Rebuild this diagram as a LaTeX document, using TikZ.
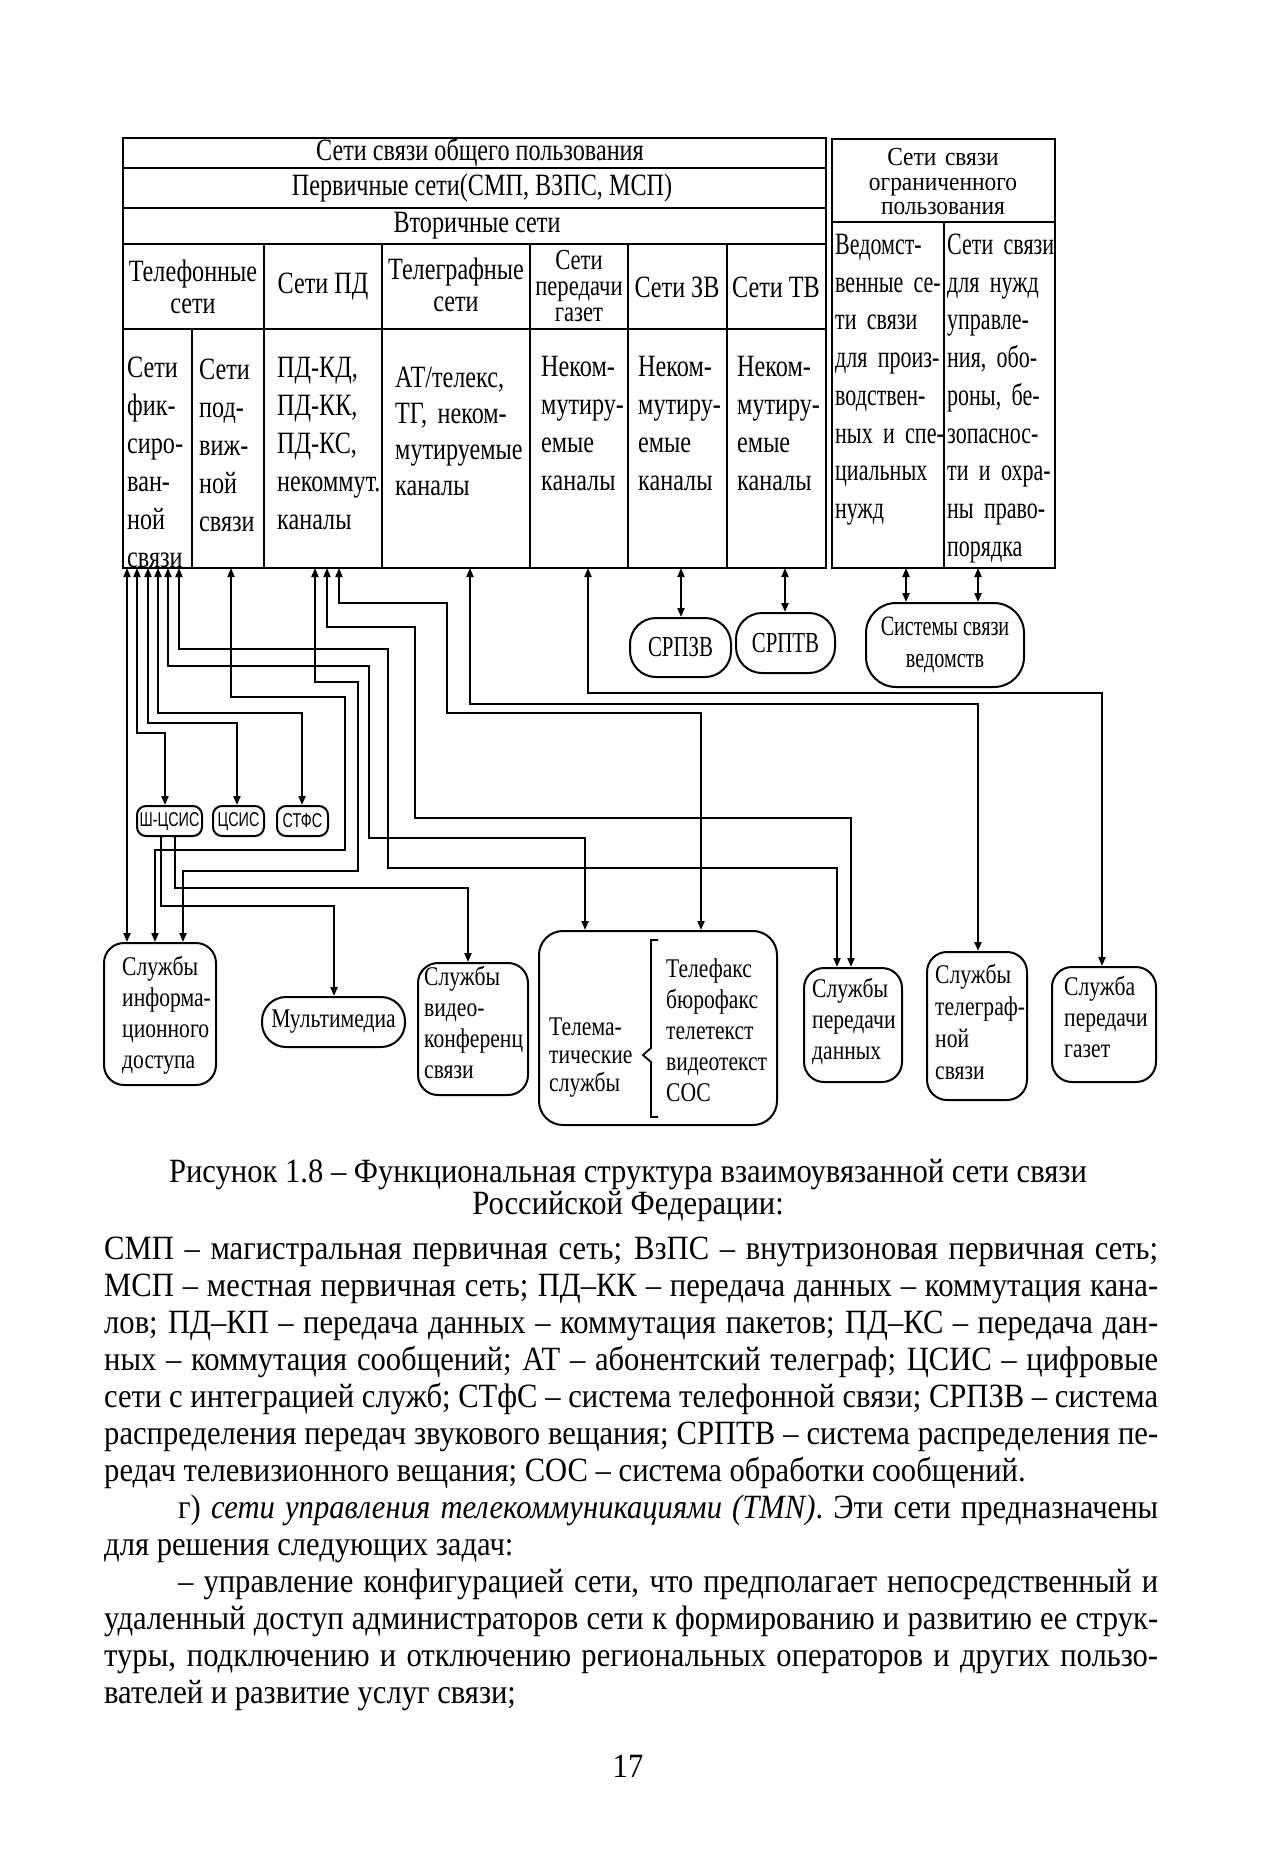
\documentclass[tikz,border=0pt]{standalone}
\usepackage{fontspec}
\setmainfont{Liberation Serif}[FakeStretch=0.9]
\newfontfamily\dgfam[FakeStretch=0.78]{Liberation Serif}
\newfontfamily\dgrt[FakeStretch=0.71]{Liberation Serif}
\newfontfamily\dghd[FakeStretch=0.9]{Liberation Serif}
\newfontfamily\dgbox[FakeStretch=0.8]{Liberation Serif}
\newfontfamily\dgnar[FakeStretch=0.72]{Liberation Serif}
\newfontfamily\dgsans[FakeStretch=0.72]{Liberation Sans}
\usetikzlibrary{arrows.meta}
\begin{document}
\begin{tikzpicture}[x=1pt,y=-1pt,
  tline/.style={line width=2.4pt},
  conn/.style={line width=2pt},
  biarr/.style={conn,{Triangle[length=9pt,width=7pt]}-{Triangle[length=9pt,width=7pt]}},
  arr/.style={conn,-{Triangle[length=9pt,width=7pt]}},
  hdr/.style={inner sep=0pt, align=center, font=\dgfam\fontsize{31}{32}\selectfont},
  cell/.style={anchor=north west, inner sep=0pt, text width=#1, align=left, font=\dgfam\fontsize{31}{38}\selectfont},
  sbox/.style={draw, line width=2pt, rounded corners=9pt, minimum height=30pt, inner sep=0pt, font=\dgsans\fontsize{20}{20}\selectfont},
  obox/.style={draw, line width=2pt, rounded corners=26pt, inner sep=0pt, align=center, font=\dgnar\fontsize{29}{32}\selectfont},
  sv/.style={draw, line width=2pt, rounded corners=20pt, inner sep=0pt},
  tx/.style={anchor=north west, inner sep=0pt, align=left, text width=#1, font=\dgbox\fontsize{27}{31}\selectfont},
  body/.style={anchor=base west, inner sep=0pt, font=\fontsize{34}{37}\selectfont},
  capt/.style={anchor=base, inner sep=0pt, font=\fontsize{34}{37}\selectfont}
]
\path[use as bounding box, fill=white] (0,0) rectangle (1261,1850);

% ---------- left table ----------
\draw[tline] (123,138) rectangle (826,568);
\foreach \yy in {168,208,244,329} \draw[tline] (123,\yy) -- (826,\yy);
\foreach \xx in {264,382,530,628,727} \draw[tline] (\xx,244) -- (\xx,568);
\draw[tline] (192,329) -- (192,568);

\node[hdr] (h1) at (480,153) {Сети связи общего пользования};
\node[hdr] (h2) at (482,188) {Первичные сети(СМП, ВЗПС, МСП)};
\node[hdr] (h3) at (477,226) {Вторичные сети};

\node[hdr, text width=135] (c1) at (193,287) {Телефонные\\сети};
\node[hdr] (c2) at (323,287) {Сети ПД};
\node[hdr, text width=140] (c3) at (456,285) {Телеграфные\\сети};
\node[hdr, text width=96, font=\dgfam\fontsize{29}{26}\selectfont] (c4) at (579,286) {Сети\\передачи\\газет};
\node[hdr] (c5) at (677,287) {Сети ЗВ};
\node[hdr] (c6) at (776,287) {Сети ТВ};

\node[cell=200] (d1) at (127,351) {\strut Сети\\фик-\\сиро-\\ван-\\ной\\связи};
\node[cell=200] (d2) at (199,353) {\strut Сети\\под-\\виж-\\ной\\связи};
\node[cell=200] (d3) at (277,351) {\strut ПД-КД,\\ПД-КК,\\ПД-КС,\\некоммут.\\каналы};
\node[cell=200, font=\dgfam\fontsize{31}{36}\selectfont] (d4) at (395,362) {\strut АТ/телекс,\\ТГ, неком-\\мутируемые\\каналы};
\node[cell=200] (d5) at (541,350) {\strut Неком-\\мутиру-\\емые\\каналы};
\node[cell=200] (d6) at (638,350) {\strut Неком-\\мутиру-\\емые\\каналы};
\node[cell=200] (d7) at (737,350) {\strut Неком-\\мутиру-\\емые\\каналы};

% ---------- right table ----------
\draw[tline] (832,139) rectangle (1055,568);
\draw[tline] (832,222) -- (1055,222);
\draw[tline] (944,222) -- (944,568);
\node[hdr, text width=215, font=\dghd\fontsize{26}{24.5}\selectfont] (r0) at (943,182) {Сети связи\\ограниченного\\пользования};
\node[cell=200, font=\dgrt\fontsize{31}{37.7}\selectfont] (r1) at (835,228) {\strut Ведомст-\\венные се-\\ти связи\\для произ-\\водствен-\\ных и спе-\\циальных\\нужд};
\node[cell=200, font=\dgrt\fontsize{31}{37.7}\selectfont] (r2) at (947,228) {\strut Сети связи\\для нужд\\управле-\\ния, обо-\\роны, бе-\\зопаснос-\\ти и охра-\\ны право-\\порядка};

% ---------- middle nodes ----------
\node[sbox, minimum width=65pt] (shc) at (169.5,821) {Ш-ЦСИС};
\node[sbox, minimum width=51pt] (csis) at (238.5,821) {ЦСИС};
\node[sbox, minimum width=51pt] (stfs) at (302.5,821) {СТФС};

\node[obox, minimum width=101pt, minimum height=59pt] (srpzv) at (680.5,647.5) {СРПЗВ};
\node[obox, minimum width=99pt, minimum height=60pt] (srptv) at (785.5,643) {СРПТВ};
\node[obox, minimum width=158pt, minimum height=84pt, rounded corners=30pt, font=\dgnar\fontsize{28}{32}\selectfont] (sved) at (945,645) {Системы связи\\ведомств};

% ---------- bottom nodes ----------
\node[sv, minimum width=112pt, minimum height=142pt] (sinf) at (160,1014) {};
\node[tx=200] (sinft) at (122,954) {\strut Службы\\информа-\\ционного\\доступа};
\node[obox, minimum width=143pt, minimum height=50pt, rounded corners=24pt, font=\dgbox\fontsize{27}{30}\selectfont] (mm) at (333.5,1022) {Мультимедиа};
\node[sv, minimum width=110pt, minimum height=132pt] (vk) at (473,1029) {};
\node[tx=200] (vkt) at (424,964) {\strut Службы\\видео-\\конференц\\связи};
\node[sv, rounded corners=24pt, minimum width=238pt, minimum height=194pt] (telem) at (658,1028) {};
\node[tx=200, font=\dgbox\fontsize{27}{28}\selectfont] (tl1) at (549,1016) {\strut Телема-\\тические\\службы};
\node[tx=200] (tl2) at (666,956) {\strut Телефакс\\бюрофакс\\телетекст\\видеотекст\\СОС};
\draw[line width=1.8pt] (658,940) -- (651,940) -- (651,1048) -- (643,1055) -- (651,1062) -- (651,1117) -- (658,1117);
\node[sv, minimum width=98pt, minimum height=114pt] (spd) at (853,1025) {};
\node[tx=200] (spdt) at (812,976) {\strut Службы\\передачи\\данных};
\node[sv, minimum width=100pt, minimum height=148pt] (stg) at (977,1026) {};
\node[tx=200, font=\dgbox\fontsize{27}{32}\selectfont] (stgt) at (935,961) {\strut Службы\\телеграф-\\ной\\связи};
\node[sv, minimum width=104pt, minimum height=115pt] (sgaz) at (1104,1024.5) {};
\node[tx=200] (sgazt) at (1064,974) {\strut Служба\\передачи\\газет};

% ---------- connector coordinates ----------
\foreach \n/\xx in {1/127,2/137,3/148,4/158,5/168,6/179,7/231,8/315,9/327,10/339,11/470,12/588,13/681,14/785,15/906,16/978}
  \coordinate (a\n) at (\xx,568);
\coordinate (k2) at (165,733);
\coordinate (k3) at (237,723);
\coordinate (k4) at (302,713);
\coordinate (k5) at (585,838);
\coordinate (k6) at (837,868);
\coordinate (k7) at (155,850);
\coordinate (k8) at (183,871);
\coordinate (k9) at (851,818);
\coordinate (k10) at (701,713);
\coordinate (k11) at (978,704);
\coordinate (k12) at (1102,693);
\coordinate (b1) at (161,836);
\coordinate (b2) at (175,836);
\coordinate (k17) at (334,906);
\coordinate (k18) at (468,888);

\draw[biarr] (a1) -- (a1 |- sinf.north);
\draw[biarr] (a2) |- (k2) -- (k2 |- shc.north);
\draw[biarr] (a3) |- (k3) -- (k3 |- csis.north);
\draw[biarr] (a4) |- (k4) -- (k4 |- stfs.north);
\draw[biarr] (a5) |- (369,666) |- (k5) -- (k5 |- telem.north);
\draw[biarr] (a6) |- (388,649) |- (k6) -- (k6 |- spd.north);
\draw[biarr] (a7) |- (345,697) |- (k7) -- (k7 |- sinf.north);
\draw[biarr] (a8) |- (358,682) |- (k8) -- (k8 |- sinf.north);
\draw[biarr] (a9) |- (415,627) |- (k9) -- (k9 |- spd.north);
\draw[biarr] (a10) |- (447,603) |- (k10) -- (k10 |- telem.north);
\draw[biarr] (a11) |- (k11) -- (k11 |- stg.north);
\draw[biarr] (a12) |- (k12) -- (k12 |- sgaz.north);
\draw[biarr] (a13) -- (a13 |- srpzv.north);
\draw[biarr] (a14) -- (a14 |- srptv.north);
\draw[biarr] (a15) -- (a15 |- sved.north);
\draw[biarr] (a16) -- (a16 |- sved.north);
\draw[arr] (b1) |- (k17) -- (k17 |- mm.north);
\draw[arr] (b2) |- (k18) -- (k18 |- vk.north);

% ---------- caption and text ----------
\node[capt] (cap1) at (628,1182) {Рисунок 1.8 – Функциональная структура взаимоувязанной сети связи};
\node[capt] (cap2) at (628,1214) {Российской Федерации:};

\node[body] (t1) at (104,1259) {\makebox[1054pt][s]{СМП – магистральная первичная сеть; ВзПС – внутризоновая первичная сеть;}};
\node[body] (t2) at (104,1296) {\makebox[1054pt][s]{МСП – местная первичная сеть; ПД–КК – передача данных – коммутация кана-}};
\node[body] (t3) at (104,1333) {\makebox[1054pt][s]{лов; ПД–КП – передача данных – коммутация пакетов; ПД–КС – передача дан-}};
\node[body] (t4) at (104,1370) {\makebox[1054pt][s]{ных – коммутация сообщений; АТ – абонентский телеграф; ЦСИС – цифровые}};
\node[body] (t5) at (104,1407) {\makebox[1054pt][s]{сети с интеграцией служб; СТфС – система телефонной связи; СРПЗВ – система}};
\node[body] (t6) at (104,1444) {\makebox[1054pt][s]{распределения передач звукового вещания; СРПТВ – система распределения пе-}};
\node[body] (t7) at (104,1481) {редач телевизионного вещания; СОС – система обработки сообщений.};
\node[body] (t8) at (178,1518) {\makebox[980pt][s]{г) \textit{сети управления телекоммуникациями (TMN)}. Эти сети предназначены}};
\node[body] (t9) at (104,1555) {для решения следующих задач:};
\node[body] (t10) at (178,1592) {\makebox[980pt][s]{– управление конфигурацией сети, что предполагает непосредственный и}};
\node[body] (t11) at (104,1629) {\makebox[1054pt][s]{удаленный доступ администраторов сети к формированию и развитию ее струк-}};
\node[body] (t12) at (104,1666) {\makebox[1054pt][s]{туры, подключению и отключению региональных операторов и других пользо-}};
\node[body] (t13) at (104,1703) {вателей и развитие услуг связи;};
\node[capt] (pg) at (628,1777) {17};
\end{tikzpicture}
\end{document}
